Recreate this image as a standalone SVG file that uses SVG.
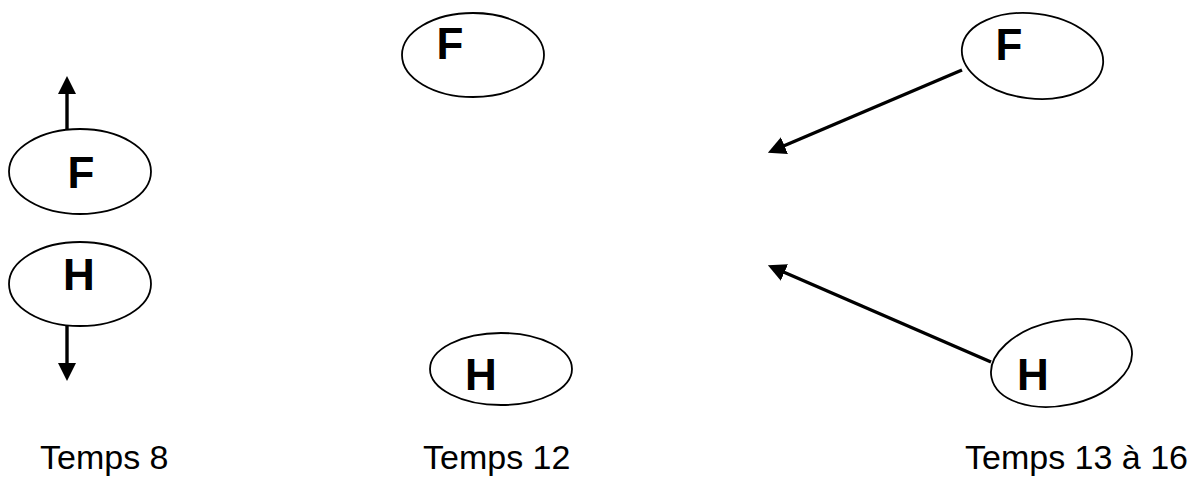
<svg xmlns="http://www.w3.org/2000/svg" width="1201" height="479" viewBox="0 0 1201 479">
  <style>
    .node ellipse { fill: #ffffff; stroke: #000000; stroke-width: 1.8; }
    .letter { font-family: "Liberation Sans", Arial, sans-serif; font-weight: bold; font-size: 44px; fill: #000000; text-anchor: middle; }
    .label { font-family: "Liberation Sans", Arial, sans-serif; font-size: 34px; fill: #000000; }
    .conn line { stroke: #000000; stroke-width: 3.4; fill: none; marker-end: url(#head); }
  </style>
  <defs>
    <marker id="head" viewBox="0 -9 18 18" refX="1" refY="0" markerUnits="userSpaceOnUse" markerWidth="18" markerHeight="18" orient="auto">
      <path d="M0,-9 L18,0 L0,9 z" fill="#000000"/>
    </marker>
  </defs>
  <rect width="1201" height="479" fill="#ffffff"/>

  <g id="connectors" class="conn">
    <line x1="67" y1="129" x2="67" y2="93"/>
    <line x1="67" y1="326" x2="67" y2="364"/>
    <line x1="962" y1="70" x2="783.5" y2="146"/>
    <line x1="991" y1="362" x2="783.5" y2="272"/>
  </g>

  <g id="node-F-t8" class="node">
    <ellipse cx="80" cy="171.5" rx="71" ry="42.5"/>
    <text class="letter" x="81" y="188">F</text>
  </g>
  <g id="node-H-t8" class="node">
    <ellipse cx="80" cy="284" rx="71" ry="42"/>
    <text class="letter" x="79" y="290">H</text>
  </g>

  <g id="node-F-t12" class="node">
    <ellipse cx="473" cy="55" rx="71" ry="42"/>
    <text class="letter" x="450" y="59">F</text>
  </g>
  <g id="node-H-t12" class="node">
    <ellipse cx="501" cy="369" rx="71" ry="36"/>
    <text class="letter" x="481" y="390">H</text>
  </g>

  <g id="node-F-t13" class="node">
    <ellipse cx="1032.5" cy="56" rx="71" ry="42.5" transform="rotate(7 1032.5 56)"/>
    <text class="letter" x="1009" y="60">F</text>
  </g>
  <g id="node-H-t13" class="node">
    <ellipse cx="1061.5" cy="363" rx="71.5" ry="42.3" transform="rotate(-12 1061.5 363)"/>
    <text class="letter" x="1033" y="390">H</text>
  </g>

  <g id="labels">
    <text class="label" x="40" y="469">Temps 8</text>
    <text class="label" x="423" y="469">Temps 12</text>
    <text class="label" x="965" y="469">Temps 13 à 16</text>
  </g>
</svg>
